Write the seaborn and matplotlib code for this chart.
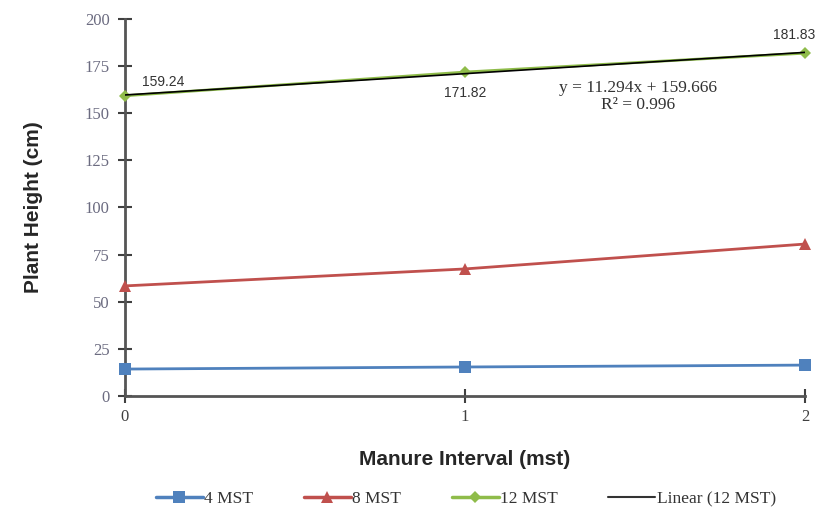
import numpy as np
import pandas as pd
import matplotlib
matplotlib.use("Agg")
import matplotlib.pyplot as plt
import seaborn as sns
from matplotlib.lines import Line2D

interval = [0, 1, 2]
mst4 = [14.3, 15.4, 16.4]
mst8 = [58.4, 67.4, 80.6]
mst12 = [159.24, 171.82, 181.83]
series_names = ["4 MST", "8 MST", "12 MST"]
yticks = [0, 25, 50, 75, 100, 125, 150, 175, 200]
trend_slope = 11.294
trend_intercept = 159.666
trend_r2 = 0.996

sns.set_style("white")
plt.rcParams['font.family'] = ['Liberation Sans', 'DejaVu Sans']

df = pd.DataFrame({
    "x": interval * 3,
    "y": mst4 + mst8 + mst12,
    "s": [series_names[0]] * 3 + [series_names[1]] * 3 + [series_names[2]] * 3,
})

fig = plt.figure(figsize=(8.2, 5.11), dpi=100)
ax = fig.add_axes([0.1524, 0.225, 0.8293, 0.738])

colors = {"4 MST": "#4f81bd", "8 MST": "#c0504d", "12 MST": "#8fbc4a"}
markers = {"4 MST": "s", "8 MST": "^", "12 MST": "D"}
sizes = {"4 MST": 8.5, "8 MST": 8.5, "12 MST": 6.5}
for name in series_names:
    sub = df[df.s == name]
    sns.lineplot(data=sub, x="x", y="y", ax=ax, color=colors[name], marker=markers[name],
                 markersize=sizes[name], markeredgewidth=0, linewidth=2, legend=False,
                 clip_on=False, zorder=3)

xs = np.array([interval[0], interval[-1]])
ax.plot(xs, trend_slope * xs + trend_intercept, color="black", linewidth=1.2, zorder=4)

ax.set_xlim(0, 2)
ax.set_ylim(0, 200)
ax.set_xticks(interval)
ax.set_yticks(yticks)
serif = ['Liberation Serif', 'DejaVu Serif']
ax.set_xticklabels([str(v) for v in interval], family=serif, fontsize=12, color="#404040")
ax.set_yticklabels([str(v) for v in yticks], family=serif, fontsize=12, color="#6b6b80")
ax.tick_params(axis="both", direction="inout", length=10, width=1.5, color="#404040",
               left=True, bottom=True)
ax.tick_params(axis="y", pad=6)
ax.tick_params(axis="x", pad=4)
for side in ["top", "right"]:
    ax.spines[side].set_visible(False)
for side in ["left", "bottom"]:
    ax.spines[side].set_color("#555555")
    ax.spines[side].set_linewidth(2)

ax.set_xlabel("Manure Interval (mst)", fontsize=15, fontweight="bold", labelpad=18)
ax.set_ylabel("Plant Height (cm)", fontsize=15, fontweight="bold", labelpad=30)

ax.annotate(f"{mst12[0]:.2f}", (interval[0], mst12[0]), xytext=(12, 10), textcoords="offset points",
            fontsize=10, color="#333333", ha="left", va="center")
ax.annotate(f"{mst12[1]:.2f}", (interval[1], mst12[1]), xytext=(0, -15), textcoords="offset points",
            fontsize=10, color="#333333", ha="center", va="center")
ax.annotate(f"{mst12[2]:.2f}", (interval[2], mst12[2]), xytext=(-8, 13), textcoords="offset points",
            fontsize=10, color="#333333", ha="center", va="center")

fig.text(638 / 820, 1 - 88 / 511, f"y = {trend_slope:.3f}x + {trend_intercept:.3f}", family=serif,
         fontsize=12.5, color="#333333", ha="center", va="center")
fig.text(638 / 820, 1 - 105 / 511, f"R² = {trend_r2:.3f}", family=serif,
         fontsize=12.5, color="#333333", ha="center", va="center")

handles = [Line2D([], [], color=colors[n], marker=markers[n], markersize=sizes[n] - 0.5,
                  markeredgewidth=0, linewidth=2.5) for n in series_names]
handles.append(Line2D([], [], color="#333333", linewidth=1.5))
labels = series_names + ["Linear (12 MST)"]
fig.legend(handles, labels, loc="center", bbox_to_anchor=(466 / 820, 1 - 499 / 511), ncol=4,
           frameon=False, prop={"family": serif, "size": 12.5}, handlelength=2.7,
           handletextpad=0.1, columnspacing=2.9, labelcolor="#333333")

fig.savefig("out.png", dpi=100)
